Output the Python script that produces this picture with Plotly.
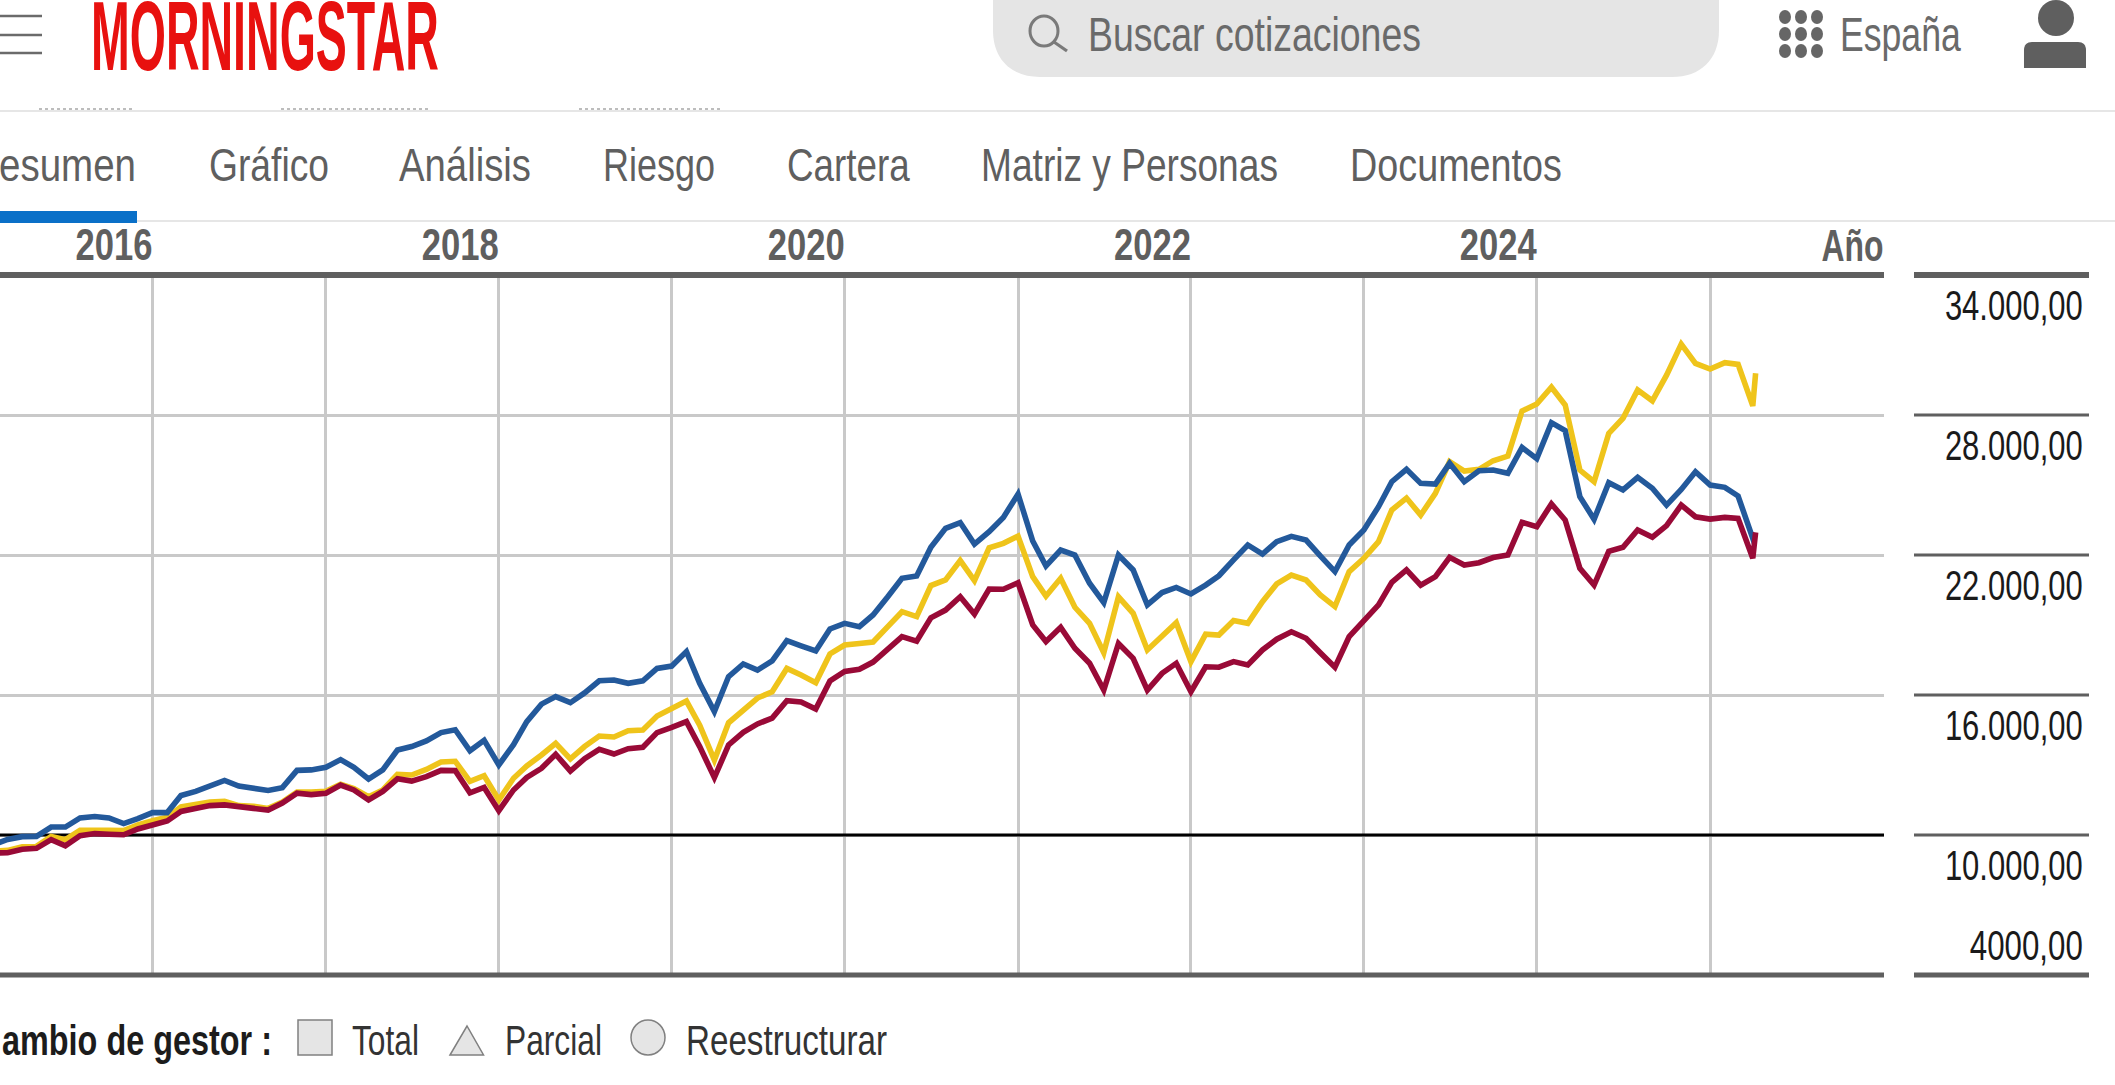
import json
import pandas as pd
import plotly.graph_objects as go

W, H = 2115, 1085
FONT = "Liberation Sans, Arial, sans-serif"
DARK = "#5f5f5f"
GRID = "#c9c9c9"

years = [2016, 2017, 2018, 2019, 2020, 2021, 2022, 2023, 2024, 2025]
year_labels = ["2016", "", "2018", "", "2020", "", "2022", "", "2024", ""]
y_ticks = [34000, 28000, 22000, 16000, 10000, 4000]
y_labels = ["34.000,00", "28.000,00", "22.000,00", "16.000,00", "10.000,00", "4000,00"]
tabs = ["Gráfico", "Análisis", "Riesgo", "Cartera", "Matriz y Personas", "Documentos"]
months = list(pd.date_range("2015-02-01", periods=123, freq="MS").strftime("%Y-%m-%d")) + ["2025-04-07"]
x_range = ["2015-02-13", "2026-01-03"]
base_value = [10000, 10000]

fund_blue = [
    9590, 9810, 9930, 9940, 10340, 10340, 10730, 10790, 10730, 10490, 10700,
    10960, 10960, 11690, 11870, 12130, 12340, 12100, 12010, 11910, 12030, 12770,
    12790, 12900, 13230, 12900, 12400, 12790, 13640, 13790, 14030, 14390, 14510,
    13610, 14060, 13000, 13870, 14860, 15610, 15930, 15670, 16090, 16610,
    16640, 16500, 16610, 17140, 17240, 17860, 16500, 15290, 16790, 17330, 17070,
    17460, 18330, 18110, 17890, 18830, 19070, 18930, 19430, 20210, 21000,
    21100, 22330, 23140, 23390, 22470, 23000, 23610, 24610, 22600, 21530, 22210,
    22000, 20790, 19960, 22000, 21360, 19860, 20390, 20610, 20330,
    20710, 21110, 21790, 22430, 22040, 22570, 22800, 22640, 21960, 21290, 22430,
    23070, 24070, 25140, 25670, 25070, 25040, 25930, 25140, 25610, 25640,
    25500, 26610, 26130, 27670, 27330, 24500, 23530, 25100, 24790, 25330, 24860,
    24140, 24810, 25570, 25000, 24900, 24530, 22710, 22930,
]
index_yellow = [
    9310, 9340, 9490, 9510, 9940, 9800, 10200, 10230, 10200, 10190, 10430,
    10610, 10760, 11200, 11310, 11410, 11440, 11260, 11230, 11140, 11410, 11840,
    11840, 11870, 12170, 11990, 11640, 11930, 12600, 12570, 12810, 13130, 13160,
    12300, 12540, 11500, 12430, 12960, 13430, 13930, 13260, 13790, 14240,
    14200, 14470, 14500, 15100, 15390, 15740, 14710, 13210, 14810, 15360, 15870,
    16140, 17140, 16860, 16530, 17760, 18140, 18210, 18270, 18930, 19570,
    19360, 20690, 20930, 21760, 20900, 22310, 22500, 22810, 21070, 20240, 21000,
    19760, 19070, 17810, 20210, 19500, 17930, 18500, 19100, 17430,
    18610, 18570, 19190, 19070, 20000, 20760, 21140, 20930, 20290, 19790, 21290,
    21860, 22570, 23930, 24440, 23710, 24640, 26000, 25600, 25670, 26040,
    26240, 28170, 28470, 29190, 28430, 25640, 25140, 27210, 27860, 29070, 28610,
    29710, 31040, 30210, 29970, 30240, 30170, 28390, 29790,
]
category_red = [
    9230, 9240, 9390, 9430, 9800, 9540, 9970, 10060, 10030, 10010, 10260,
    10440, 10600, 11010, 11140, 11260, 11290, 11190, 11140, 11070, 11370, 11790,
    11730, 11790, 12140, 11930, 11500, 11870, 12410, 12310, 12500, 12770, 12760,
    11810, 12040, 11040, 11930, 12470, 12860, 13460, 12740, 13270, 13670,
    13470, 13700, 13760, 14390, 14610, 14860, 13790, 12460, 13860, 14400, 14760,
    15010, 15760, 15700, 15400, 16600, 17010, 17100, 17410, 17930, 18500,
    18310, 19310, 19640, 20210, 19470, 20540, 20530, 20810, 19000, 18290, 18900,
    18000, 17360, 16210, 18210, 17570, 16210, 16930, 17360, 16140,
    17210, 17190, 17430, 17290, 17930, 18390, 18710, 18430, 17810, 17190, 18500,
    19210, 19860, 20830, 21360, 20710, 21070, 21900, 21570, 21670, 21890,
    22000, 23400, 23210, 24190, 23500, 21430, 20710, 22160, 22330, 23070, 22760,
    23260, 24140, 23640, 23540, 23610, 23570, 21860, 22970,
]

# widths (px) the condensed lettering of the page occupies
text_widths = {
    "MORNINGSTAR": 348, "Buscar cotizaciones": 333, "España": 121, "esumen": 137,
    "Gráfico": 120, "Análisis": 132, "Riesgo": 112, "Cartera": 123, "Matriz y Personas": 297,
    "Documentos": 212, "Año": 62,
    "34.000,00": 138, "28.000,00": 138, "22.000,00": 138, "16.000,00": 138, "10.000,00": 138,
    "4000,00": 113, "ambio de gestor :": 270, "Total": 67, "Parcial": 97, "Reestructurar": 201,
}
right_aligned = ["Año", "34.000,00", "28.000,00", "22.000,00", "16.000,00", "10.000,00", "4000,00"]
year_widths = {"2016": 77, "2018": 77, "2020": 77, "2022": 77, "2024": 77}


def px(x):
    return x / W


def py(y):
    return 1 - y / H


def paper_line(x0, y0, x1, y1, color, width, dash="solid"):
    return dict(type="line", xref="paper", yref="paper", x0=px(x0), x1=px(x1), y0=py(y0), y1=py(y1),
                line=dict(color=color, width=width, dash=dash))


def paper_path(points, fill, line_color=None, line_width=0):
    return dict(type="path", xref="paper", yref="paper", path=points, fillcolor=fill,
                line=dict(color=line_color or fill, width=line_width))


def pts(cmds):
    out = []
    for c in cmds:
        if isinstance(c, str):
            out.append(c)
        else:
            out.append(f"{px(c[0]):.5f},{py(c[1]):.5f}")
    return " ".join(out)


def ellipse(cx, cy, rx, ry, fill, line_color=None, line_width=0):
    return dict(type="circle", xref="paper", yref="paper", x0=px(cx - rx), x1=px(cx + rx), y0=py(cy - ry), y1=py(cy + ry),
                fillcolor=fill, line=dict(color=line_color or fill, width=line_width))


def label(text, x, y, size, color, anchor="left", bold=False):
    return dict(text=text, xref="paper", yref="paper", x=px(x), y=py(y),
                xanchor=anchor, yanchor="middle", showarrow=False,
                font=dict(family=FONT, size=size, color=color, weight="bold" if bold else "normal"))


fig = go.Figure()
fig.add_trace(go.Scatter(x=x_range, y=base_value, mode="lines", hoverinfo="skip", showlegend=False,
                         line=dict(color="#000000", width=2.8)))
for values, color, name in [
    (index_yellow, "#efc41b", "Índice"),
    (fund_blue, "#23599b", "Fondo"),
    (category_red, "#990a37", "Categoría"),
]:
    fig.add_trace(go.Scatter(x=months, y=values, mode="lines", name=name, hoverinfo="skip",
                             line=dict(color=color, width=5.6, shape="linear"), showlegend=False))

shapes = []
for v in y_ticks[1:-1]:
    shapes.append(dict(type="line", xref="paper", yref="y", x0=px(1914), x1=px(2089), y0=v, y1=v,
                       line=dict(color=DARK, width=3)))
# thick top and bottom frame rules, left of and right of the gap
for y, w in ((275, 6), (975, 5)):
    shapes.append(paper_line(0, y, 1884, y, DARK, w))
    shapes.append(paper_line(1914, y, 2089, y, DARK, w))

# page chrome
for y in (16, 35, 53):
    shapes.append(paper_line(0, y, 42, y, "#6b6b6b", 2.6))
shapes.append(paper_path(pts(["M", (993, -20), "L", (1719, -20), "L", (1719, 30), "C", (1719, 60), (1700, 77), (1672, 77),
                              "L", (1040, 77), "C", (1012, 77), (993, 60), (993, 30), "Z"]), "#e5e5e5"))
shapes.append(ellipse(1044, 31, 14, 15, "rgba(0,0,0,0)", "#7a7a7a", 3))
shapes.append(paper_line(1054, 42, 1067, 51, "#7a7a7a", 3.2))
for dx in (1785, 1801, 1817):
    for dy in (17, 34, 51):
        shapes.append(ellipse(dx, dy, 6, 7, "#666666"))
shapes.append(ellipse(2056, 18, 18, 18, DARK))
shapes.append(paper_path(pts(["M", (2024, 68), "L", (2024, 50), "C", (2024, 45), (2027, 42), (2032, 42),
                              "L", (2078, 42), "C", (2083, 42), (2086, 45), (2086, 50), "L", (2086, 68), "Z"]), DARK))
shapes.append(paper_line(0, 111, W, 111, "#e6e6e6", 2))
for a, b in ((39, 132), (281, 431), (579, 723)):
    shapes.append(paper_line(a, 109, b, 109, "#bdbdbd", 2, "dot"))
shapes.append(paper_line(0, 221, W, 221, "#e6e6e6", 2))
shapes.append(dict(type="rect", xref="paper", yref="paper", x0=0, x1=px(137), y0=py(223), y1=py(211),
                   fillcolor="#0a70c8", line=dict(width=0)))
shapes.append(dict(type="rect", xref="paper", yref="paper", x0=px(298), x1=px(332), y0=py(1055), y1=py(1020),
                   fillcolor="#e5e5e5", line=dict(color="#808080", width=1.5)))
shapes.append(paper_path(pts(["M", (450, 1055), "L", (467, 1026), "L", (483.5, 1055), "Z"]), "#e5e5e5", "#808080", 1.5))
shapes.append(ellipse(648, 1037.5, 17, 17.5, "#e5e5e5", "#808080", 1.5))

annotations = [
    label("MORNINGSTAR", 89, 36, 98, "#e8110f", bold=True),
    label("Buscar cotizaciones", 1086, 35, 48, "#6a6a6a"),
    label("España", 1838, 35, 48, "#6a6a6a"),
    label("esumen", -3, 165, 46, "#5f5f5f"),
    label("Año", 1886, 245, 44, DARK, anchor="right", bold=True),
    label("ambio de gestor :", 0, 1040, 42, "#1c1c1c", bold=True),
    label("Total", 350, 1040, 42, "#333333"),
    label("Parcial", 503, 1040, 42, "#333333"),
    label("Reestructurar", 684, 1040, 42, "#333333"),
]
for text, x in zip(tabs, (206.6, 397, 601, 785, 979, 1348)):
    annotations.append(label(text, x, 165, 46, "#5f5f5f"))
for v, text in zip(y_ticks, y_labels):
    annotations.append(dict(text=text, xref="paper", yref="y", x=px(2085), y=v, xanchor="right", yanchor="middle",
                            yshift=30 if v == 4000 else -30, showarrow=False,
                            font=dict(family=FONT, size=42, color="#1a1a1a")))

fig.update_layout(
    width=W, height=H, autosize=False, margin=dict(l=0, r=0, t=0, b=0),
    paper_bgcolor="#ffffff", plot_bgcolor="#ffffff", showlegend=False, hovermode=False,
    xaxis=dict(
        type="date", domain=[0, 1884 / W], range=x_range, side="top",
        tickvals=[f"{y}-01-01" for y in years], ticktext=year_labels, ticks="", ticklabelposition="outside left",
        ticklabelstandoff=5,
        tickfont=dict(family=FONT, size=44, color=DARK, weight="bold"),
        showgrid=True, gridcolor=GRID, gridwidth=2.6, zeroline=False, showline=False,
    ),
    yaxis=dict(
        domain=[py(975), py(275)], range=[4000, 34000], tickvals=y_ticks, showticklabels=False, ticks="",
        showgrid=True, gridcolor=GRID, gridwidth=2.6, zeroline=False, showline=False,
    ),
    shapes=shapes, annotations=annotations,
)

post = (
    "document.body.style.margin='0';document.body.style.overflow='hidden';"
    "var tw=" + json.dumps(text_widths, ensure_ascii=False) + ";"
    "var ra=" + json.dumps(right_aligned, ensure_ascii=False) + ";"
    "var yw=" + json.dumps(year_widths) + ";"
    "document.querySelectorAll('svg text').forEach(function(t){var k=t.textContent;"
    "if(yw[k]){t.setAttribute('textLength',yw[k]);t.setAttribute('lengthAdjust','spacingAndGlyphs');return;}"
    "var w=tw[k];if(!w)return;var r=t.getBBox();var x0=ra.indexOf(k)>=0?r.x+r.width:r.x;var s=w/r.width;"
    "t.setAttribute('transform',(t.getAttribute('transform')||'')+' translate('+x0+' 0) scale('+s+' 1) translate('+(-x0)+' 0)');});"
    "document.querySelectorAll('path.js-line').forEach(function(p){p.style.strokeLinejoin='miter';p.style.strokeMiterlimit='3';});"
)
fig.write_html("out.html", config=dict(displayModeBar=False, responsive=False), post_script=post)
